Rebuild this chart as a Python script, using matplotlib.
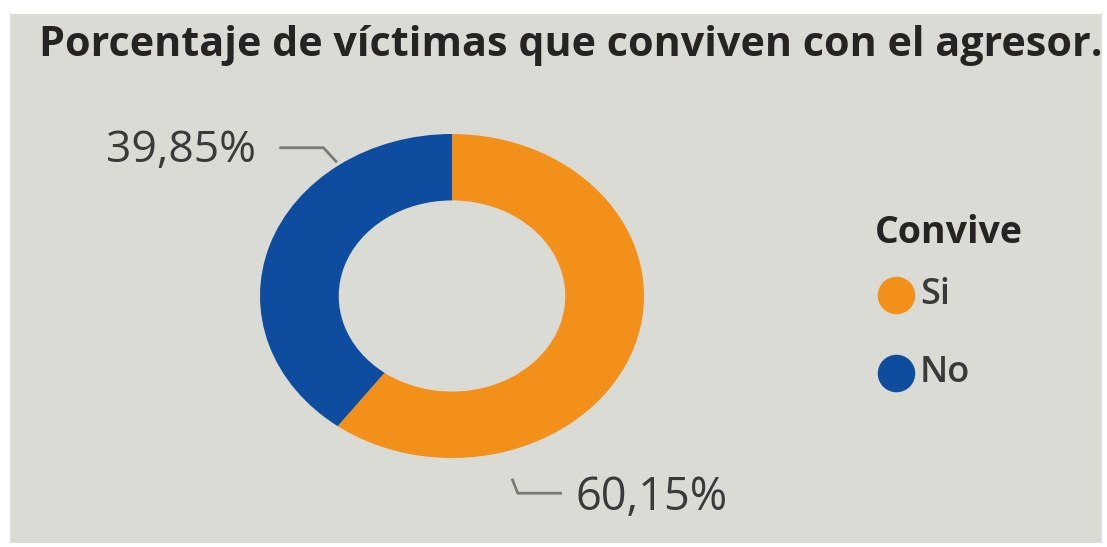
import numpy as np
import matplotlib
matplotlib.use("Agg")
import matplotlib.pyplot as plt
from matplotlib.patches import Rectangle
from matplotlib.lines import Line2D

# data
categories = ["Si", "No"]
values = [60.15, 39.85]
labels = ["60,15%", "39,85%"]
colors = ["#F39019", "#0D4C9E"]
title = "Porcentaje de víctimas que conviven con el agresor."
legend_title = "Convive"

plt.rcParams['font.family'] = ['Open Sans', 'DejaVu Sans']

W, H = 1107, 547
fig = plt.figure(figsize=(W / 100, H / 100), dpi=100, facecolor="white")

# grey card behind everything
fig.patches.append(Rectangle((10 / W, 4 / H), 1092 / W, 529 / H, transform=fig.transFigure,
                             facecolor="#DBDBD6", edgecolor="none", zorder=-5))

ax = fig.add_axes([0, 0, 1, 1], zorder=2)
ax.set_facecolor("none")
wedges, _ = ax.pie(values, colors=colors, startangle=90, counterclock=False,
                   radius=1.0, wedgeprops=dict(width=0.41, edgecolor="none"))
# the donut is drawn a bit wider than tall
sx, sy = 192.0, 162.0  # px per unit
cx, cy = 452.0, 547 - 296.0
ax.set_aspect("auto")
ax.set_xlim(-cx / sx, (W - cx) / sx)
ax.set_ylim(-cy / sy, (H - cy) / sy)
ax.axis("off")

# data labels with leader lines
line_kw = dict(color="#7A7A78", lw=2, solid_capstyle="butt")
for w, lab in zip(wedges, labels):
    if w.theta2 - w.theta1 < 180:
        # blue slice, label top left
        a = np.deg2rad(126)
        p0 = (1.02 * np.cos(a), 1.02 * np.sin(a))
        p1 = (p0[0] - 0.07, p0[1] + 0.09)
        p2 = (p1[0] - 0.23, p1[1])
        ax.plot([p0[0], p1[0], p2[0]], [p0[1], p1[1], p2[1]], **line_kw)
        ax.text(p2[0] - 0.12, p2[1] - 0.02, lab, ha="right", va="center",
                fontsize=32, color="#3A3A3A")
    else:
        a = np.deg2rad(-74.5)
        p0 = (1.17 * np.cos(a), 1.17 * np.sin(a))
        p1 = (p0[0] + 0.03, p0[1] - 0.09)
        p2 = (p1[0] + 0.23, p1[1])
        ax.plot([p0[0], p1[0], p2[0]], [p0[1], p1[1], p2[1]], **line_kw)
        ax.text(p2[0] + 0.07, p2[1] - 0.03, lab, ha="left", va="center",
                fontsize=32.5, color="#3A3A3A")

fig.text(39 / W, 1 - 46 / H, title, ha="left", va="center", fontsize=29.7,
         weight="bold", color="#252423")

# legend drawn by hand to match the spacing
fig.text(875 / W, 1 - 233 / H, legend_title, ha="left", va="center", fontsize=27,
         weight="bold", color="#252423")
for i, (cat, c) in enumerate(zip(categories, colors)):
    yy = 1 - (295 + 78 * i) / H
    fig.add_artist(Line2D([896 / W], [yy], marker="o", ls="none", markersize=26,
                          color=c, transform=fig.transFigure))
    fig.text(920 / W, yy, cat, ha="left", va="center", fontsize=26,
             weight="semibold", color="#3A3A3A")

fig.savefig("out.png", dpi=100, facecolor="white")
